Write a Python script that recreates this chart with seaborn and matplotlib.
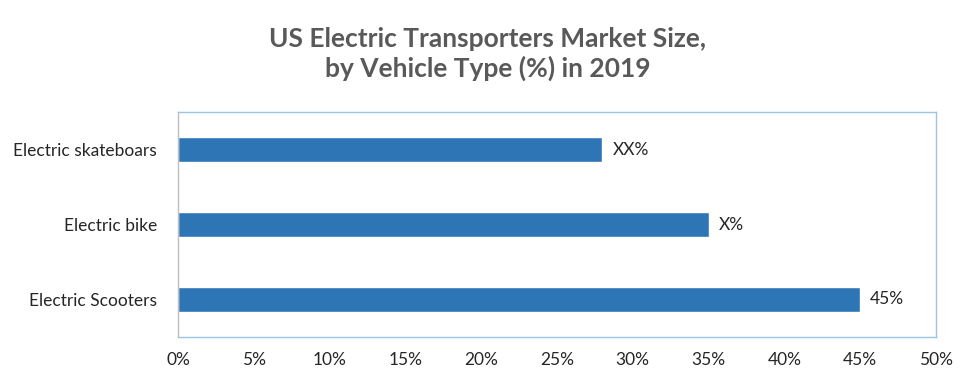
import matplotlib
matplotlib.use("Agg")
import matplotlib.pyplot as plt
import seaborn as sns
import pandas as pd

categories = ["Electric skateboars", "Electric bike", "Electric Scooters"]
shares = [28, 35, 45]
bar_labels = ["XX%", "X%", "45%"]
x_ticks = [0, 5, 10, 15, 20, 25, 30, 35, 40, 45, 50]

df = pd.DataFrame({"category": categories, "share": shares})

sns.set_style("white")
plt.rcParams['font.family'] = ['Lato', 'DejaVu Sans']

fig = plt.figure(figsize=(9.75, 3.86), dpi=100)
ax = fig.add_axes([178 / 975, 1 - 337 / 386, (936 - 178) / 975, (337 - 112) / 386])

sns.barplot(data=df, x="share", y="category", color="#2E75B6", width=1 / 3,
            saturation=1, ax=ax, orient="h")

for i, (v, lab) in enumerate(zip(shares, bar_labels)):
    ax.text(v + 0.65, i, lab, va="center", ha="left", fontsize=12.5, color="#262626")

ax.set_xlim(0, 50)
ax.set_ylim(2.5, -0.5)
ax.set_xticks(x_ticks)
ax.set_xticklabels([f"{t}%" for t in x_ticks], fontsize=12.5, color="#262626")
ax.tick_params(axis="y", labelsize=12.5, labelcolor="#262626", length=0, pad=15)
ax.tick_params(axis="x", length=0, pad=11)
ax.set_xlabel("")
ax.set_ylabel("")

for side in ["top", "right", "bottom"]:
    ax.spines[side].set_color("#9DC3E6")
    ax.spines[side].set_linewidth(1)
ax.spines["left"].set_color("#BFBFBF")
ax.spines["left"].set_linestyle((0, (2, 1)))
ax.spines["left"].set_linewidth(1)

fig.text(0.5, 1 - 54 / 386, "US Electric Transporters Market Size,\nby Vehicle Type (%) in 2019",
         ha="center", va="center", fontsize=19, fontweight="bold", color="#595959",
         linespacing=1.22)

fig.savefig("out.png", dpi=100)
